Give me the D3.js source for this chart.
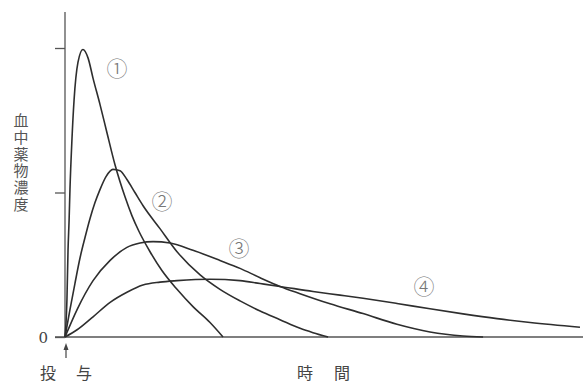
<!DOCTYPE html>
<html>
<head>
<meta charset="utf-8">
<script src="https://cdn.jsdelivr.net/npm/d3@7"></script>
<style>
  html, body { margin: 0; padding: 0; background: #fff; }
  svg { display: block; }
  text { font-family: "Noto Sans CJK JP", "Noto Sans", sans-serif; }
</style>
</head>
<body>
<svg id="chart" width="583" height="383"></svg>
<script>
// ---- data (time in hours, concentration in arbitrary units) ----
const seriesNames = ["①", "②", "③", "④"];

const t1 = [0, 0.09, 0.14, 0.19, 0.23, 0.32, 0.42, 0.60, 0.83, 1.07, 1.30, 1.62, 1.95, 2.32, 2.78, 3.10, 3.43, 3.94, 4.49, 5.19, 5.93, 6.72, 7.32];
const c1 = [0, 0.26, 0.60, 0.81, 1.02, 1.36, 1.64, 1.90, 1.99, 1.93, 1.79, 1.61, 1.41, 1.19, 0.97, 0.84, 0.73, 0.59, 0.46, 0.33, 0.21, 0.10, 0];

const t2 = [0, 0.23, 0.46, 0.70, 0.93, 1.16, 1.39, 1.62, 1.90, 2.22, 2.55, 2.87, 3.24, 3.61, 4.40, 5.19, 6.26, 7.18, 8.11, 9.04, 9.96, 10.89, 11.49, 12.19];
const c2 = [0, 0.19, 0.37, 0.55, 0.69, 0.82, 0.93, 1.02, 1.11, 1.16, 1.15, 1.09, 1.00, 0.91, 0.75, 0.59, 0.43, 0.33, 0.25, 0.18, 0.12, 0.06, 0.03, 0];

const t3 = [0, 0.56, 1.30, 2.09, 2.87, 3.48, 4.08, 4.87, 5.93, 7.18, 8.11, 9.04, 9.96, 10.89, 12.28, 13.81, 15.38, 16.91, 18.44, 19.37];
const c3 = [0, 0.19, 0.39, 0.53, 0.62, 0.65, 0.66, 0.65, 0.60, 0.53, 0.475, 0.41, 0.35, 0.30, 0.23, 0.162, 0.088, 0.035, 0.007, 0];

const t4 = [0, 0.56, 1.30, 2.09, 2.87, 3.61, 4.40, 5.19, 6.72, 8.11, 9.04, 9.96, 11.49, 12.74, 13.81, 15.38, 16.91, 18.44, 20.02, 21.55, 23.86];
const c4 = [0, 0.05, 0.14, 0.24, 0.31, 0.36, 0.38, 0.39, 0.40, 0.39, 0.37, 0.35, 0.315, 0.29, 0.268, 0.232, 0.195, 0.16, 0.127, 0.10, 0.068];

const yTicks = [0, 1, 2];
const yTickLabels = ["0", "", ""];
const yAxisTitle = "血中薬物濃度";
const doseLabel = ["投", "与"];
const timeLabel = ["時", "間"];

// label anchor points (time, concentration) for series numbers
const labelT = [2.41, 4.49, 8.06, 16.63];
const labelC = [1.87, 0.95, 0.62, 0.36];

// ---- drawing ----
const svg = d3.select("#chart");
const x = d3.scaleLinear().domain([0, 24]).range([65, 583]);
const y = d3.scaleLinear().domain([0, 2]).range([337, 48]);

const ink = "#2e2e2e";
const axisInk = "#555";

// y axis line
svg.append("line")
  .attr("x1", x(0)).attr("x2", x(0))
  .attr("y1", 12).attr("y2", y(0))
  .attr("stroke", axisInk).attr("stroke-width", 1.3);

// x axis (baseline)
svg.append("line")
  .attr("x1", 55).attr("x2", 583)
  .attr("y1", y(0)).attr("y2", y(0))
  .attr("stroke", axisInk).attr("stroke-width", 1.3);

// y ticks via d3 axis
const yAxis = d3.axisLeft(y).tickValues(yTicks).tickSize(10)
  .tickFormat((d, i) => yTickLabels[i]);
const gy = svg.append("g").attr("transform", `translate(${x(0)},0)`).call(yAxis);
gy.select(".domain").remove();
gy.selectAll(".tick line").attr("stroke", axisInk).attr("stroke-width", 1.3);
gy.selectAll(".tick text")
  .attr("x", -17).attr("dy", "0.36em")
  .attr("fill", "#444")
  .style("font-family", "'DejaVu Serif', 'Liberation Serif', serif")
  .style("font-size", "15px");

// curves
const line = d3.line()
  .x(d => x(d[0])).y(d => y(d[1]))
  .curve(d3.curveMonotoneX);

const allSeries = [[t1, c1], [t2, c2], [t3, c3], [t4, c4]];
allSeries.forEach(([ts, cs]) => {
  const pts = ts.map((t, i) => [t, cs[i]]);
  svg.append("path")
    .attr("d", line(pts))
    .attr("fill", "none")
    .attr("stroke", ink)
    .attr("stroke-width", 1.6)
    .attr("stroke-linejoin", "round");
});

// series labels
seriesNames.forEach((n, i) => {
  svg.append("text")
    .attr("x", x(labelT[i])).attr("y", y(labelC[i]))
    .attr("text-anchor", "middle").attr("dominant-baseline", "central")
    .attr("fill", "#777")
    .style("font-size", "21px")
    .style("font-weight", "300")
    .text(n);
});

// vertical y axis title
svg.append("text")
  .attr("x", 21).attr("y", 113)
  .attr("fill", "#555")
  .style("font-size", "15px")
  .style("writing-mode", "vertical-rl")
  .style("letter-spacing", "1.7px")
  .text(yAxisTitle);

// dose arrow
const arrowX = x(0) + 1;
svg.append("line")
  .attr("x1", arrowX).attr("x2", arrowX)
  .attr("y1", 346).attr("y2", 358)
  .attr("stroke", "#444").attr("stroke-width", 1.2);
svg.append("path")
  .attr("d", `M${arrowX - 2.5},${350} L${arrowX},${343} L${arrowX + 2.5},${350} Z`)
  .attr("fill", "#444");

// bottom labels
const bottom = svg.append("g").attr("fill", "#444").style("font-size", "16px");
[[48, doseLabel[0]], [84, doseLabel[1]], [305, timeLabel[0]], [342, timeLabel[1]]].forEach(([cx, s]) => {
  bottom.append("text")
    .attr("x", cx).attr("y", 379)
    .attr("text-anchor", "middle")
    .text(s);
});
</script>
</body>
</html>
